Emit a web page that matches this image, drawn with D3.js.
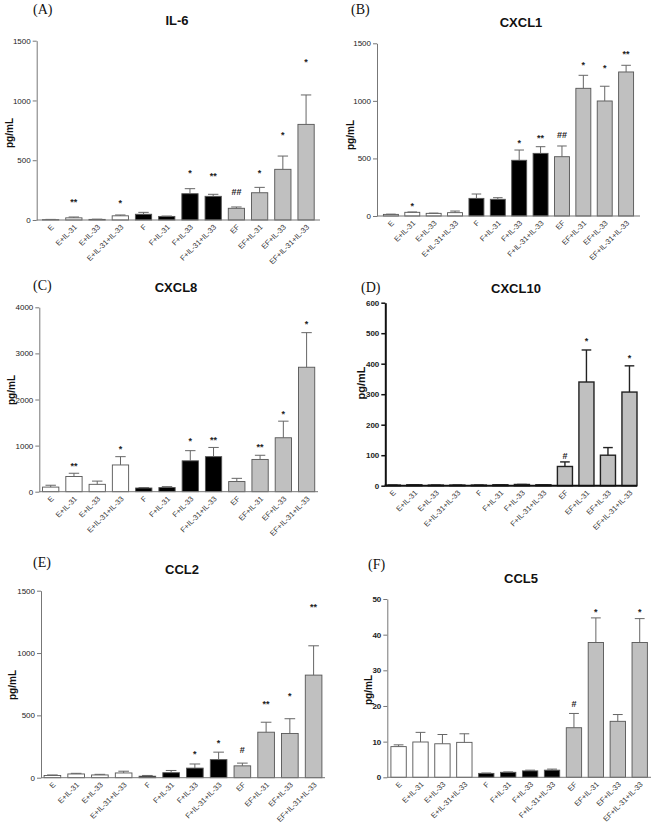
<!DOCTYPE html>
<html><head><meta charset="utf-8">
<script src="https://cdn.jsdelivr.net/npm/d3@7"></script>
<style>
body{margin:0;background:#fff;}
svg{display:block;}
</style></head>
<body>
<svg id="chart" width="656" height="830"></svg>
<script>
const categories = ["E","E+IL-31","E+IL-33","E+IL-31+IL-33","F","F+IL-31","F+IL-33","F+IL-31+IL-33","EF","EF+IL-31","EF+IL-33","EF+IL-31+IL-33"];
const groupOf = ["E","E","E","E","F","F","F","F","EF","EF","EF","EF"];

// IL-6
const il6Mean = [3,18,5,35,48,30,220,198,98,228,424,800];
const il6Err  = [5,25,7,42,64,33,262,215,109,273,535,1046];
const il6Sig  = ["","**","","*","","","*","**","##","*","*","*"];
const il6SigAt= [0,167,0,159,0,0,412,391,237,412,734,1339];
const il6Ticks = [0,500,1000,1500];

// CXCL1
const cxcl1Mean = [14,32,23,29,153,145,484,544,515,1109,999,1251];
const cxcl1Err  = [16,35,25,43,191,159,573,602,608,1222,1127,1309];
const cxcl1Sig  = ["","*","","","","","*","**","##","*","*","**"];
const cxcl1SigAt= [0,110,0,0,0,0,654,695,704,1332,1303,1427];
const cxcl1Ticks = [0,500,1000,1500];

// CXCL8
const cxcl8Mean = [100,330,160,580,80,90,670,760,220,700,1170,2700];
const cxcl8Err  = [140,400,230,760,90,110,890,960,290,790,1530,3450];
const cxcl8Sig  = ["","**","","*","","","*","**","","**","*","*"];
const cxcl8SigAt= [0,616,0,977,0,0,1159,1172,0,1013,1736,3689];
const cxcl8Ticks = [0,1000,2000,3000,4000];

// CXCL10
const cxcl10Mean = [2,3,2,2,2,3,4,3,63,340,100,307];
const cxcl10Err  = [2,3,2,2,2,3,4,3,78,445,125,393];
const cxcl10Sig  = ["","","","","","","","","#","*","","*"];
const cxcl10SigAt= [0,0,0,0,0,0,0,0,97,481,0,428];
const cxcl10Ticks = [0,100,200,300,400,500,600];

// CCL2
const ccl2Mean = [18,30,22,38,12,40,77,145,95,365,355,823];
const ccl2Err  = [22,35,27,52,18,58,110,205,117,445,473,1058];
const ccl2Sig  = ["","","","","","","*","*","#","**","*","**"];
const ccl2SigAt= [0,0,0,0,0,0,209,297,222,610,671,1385];
const ccl2Ticks = [0,500,1000,1500];

// CCL5
const ccl5Mean = [8.6,9.9,9.4,9.8,1.1,1.4,1.8,2.0,13.9,37.8,15.7,37.8];
const ccl5Err  = [9.1,12.6,12.0,12.2,1.2,1.5,2.0,2.3,17.9,44.7,17.6,44.5];
const ccl5Sig  = ["","","","","","","","","#","*","","*"];
const ccl5SigAt= [0,0,0,0,0,0,0,0,20.7,47.1,0,47.1];
const ccl5Ticks = [0,10,20,30,40,50];

const fills = {E:"#ffffff", F:"#000000", EF:"#c0c0c0"};
const svg = d3.select("#chart");
svg.append("rect").attr("width",656).attr("height",830).attr("fill","#fff");

const panels = [
  {label:"(A)", lx:33, ly:14, title:"IL-6", tx:177, ty:25, ylx:9, yly:133,
   x0:36.7, x1:320, po:0.25, y0:220, yTop:40.7, max:1500, ticks:il6Ticks,
   mean:il6Mean, err:il6Err, sig:il6Sig, sigAt:il6SigAt},
  {label:"(B)", lx:351, ly:14, title:"CXCL1", tx:521, ty:27, ylx:350, yly:135,
   x0:377, x1:640, po:0.3, y0:216, yTop:43.3, max:1500, ticks:cxcl1Ticks,
   mean:cxcl1Mean, err:cxcl1Err, sig:cxcl1Sig, sigAt:cxcl1SigAt},
  {label:"(C)", lx:33, ly:290, title:"CXCL8", tx:176, ty:292, ylx:11, yly:390,
   x0:39.3, x1:318, po:0.14, y0:491.7, yTop:307.3, max:4000, ticks:cxcl8Ticks,
   mean:cxcl8Mean, err:cxcl8Err, sig:cxcl8Sig, sigAt:cxcl8SigAt},
  {label:"(D)", lx:361, ly:292, title:"CXCL10", tx:516, ty:293, ylx:361, yly:383,
   x0:385.3, x1:637, po:0.0, y0:485.7, yTop:302.7, max:600, ticks:cxcl10Ticks,
   mean:cxcl10Mean, err:cxcl10Err, sig:cxcl10Sig, sigAt:cxcl10SigAt, heavy:true},
  {label:"(E)", lx:33, ly:567, title:"CCL2", tx:182, ty:574, ylx:12.5, yly:685,
   x0:41, x1:325, po:0.13, y0:777.7, yTop:590.7, max:1500, ticks:ccl2Ticks,
   mean:ccl2Mean, err:ccl2Err, sig:ccl2Sig, sigAt:ccl2SigAt},
  {label:"(F)", lx:368, ly:569, title:"CCL5", tx:521, ty:583, ylx:368, yly:690,
   x0:387.3, x1:651, po:0.165, y0:777.3, yTop:599, max:50, ticks:ccl5Ticks,
   mean:ccl5Mean, err:ccl5Err, sig:ccl5Sig, sigAt:ccl5SigAt, boldTicks:true}
];

panels.forEach(cfg => {
  const g = svg.append("g");
  const heavy = !!cfg.heavy;
  const axisColor = heavy ? "#111" : "#777";
  const axisW = heavy ? 2 : 1;
  const x = d3.scaleBand().domain(categories).range([cfg.x0, cfg.x1]).paddingInner(0.3).paddingOuter(cfg.po);
  const y = d3.scaleLinear().domain([0, cfg.max]).range([cfg.y0, cfg.yTop]);

  // panel label
  g.append("text").attr("x", cfg.lx).attr("y", cfg.ly)
    .attr("font-family","'Liberation Serif','Times New Roman',serif")
    .attr("font-size",14).attr("fill","#111").text(cfg.label);
  // title
  g.append("text").attr("x", cfg.tx).attr("y", cfg.ty).attr("text-anchor","middle")
    .attr("font-family","'Liberation Sans',Arial,sans-serif").attr("font-weight","bold")
    .attr("font-size",13).attr("fill","#111").text(cfg.title);
  // y label
  g.append("text").attr("transform",`translate(${cfg.ylx},${cfg.yly}) rotate(-90)`)
    .attr("text-anchor","middle").attr("dy","0.35em")
    .attr("font-family","'Liberation Sans',Arial,sans-serif").attr("font-weight","bold")
    .attr("font-size", heavy ? 11 : 10).attr("fill","#111").text("pg/mL");

  // bars
  g.selectAll("rect.bar").data(categories).join("rect").attr("class","bar")
    .attr("x", d => x(d)).attr("width", x.bandwidth())
    .attr("y", (d,i) => y(cfg.mean[i])).attr("height", (d,i) => cfg.y0 - y(cfg.mean[i]))
    .attr("fill", (d,i) => fills[groupOf[i]])
    .attr("stroke", heavy ? "#222" : "#555").attr("stroke-width", heavy ? 1.4 : 0.9);

  // error bars (upper only)
  const eg = g.append("g").attr("stroke", heavy ? "#222" : "#666").attr("stroke-width", heavy ? 1.4 : 1).attr("fill","none");
  categories.forEach((d,i) => {
    const cx = x(d) + x.bandwidth()/2;
    const cap = x.bandwidth()*0.32;
    eg.append("line").attr("x1",cx).attr("x2",cx).attr("y1",y(cfg.mean[i])).attr("y2",y(cfg.err[i]));
    eg.append("line").attr("x1",cx-cap).attr("x2",cx+cap).attr("y1",y(cfg.err[i])).attr("y2",y(cfg.err[i]));
  });

  // significance marks
  categories.forEach((d,i) => {
    if (!cfg.sig[i]) return;
    const cx = x(d) + x.bandwidth()/2;
    const isStar = cfg.sig[i].indexOf("*") >= 0;
    g.append("text").attr("x", cx).attr("y", y(cfg.sigAt[i]))
      .attr("text-anchor","middle").attr("dy", isStar ? "0.6em" : "0.35em")
      .attr("font-family","'Liberation Sans',Arial,sans-serif").attr("font-weight","bold")
      .attr("font-size", isStar ? 9 : 9).attr("fill","#222").text(cfg.sig[i]);
  });

  // y axis
  const yAxis = d3.axisLeft(y).tickValues(cfg.ticks).tickSize(4).tickSizeOuter(0).tickPadding(2).tickFormat(d3.format("d"));
  const ya = g.append("g").attr("transform",`translate(${cfg.x0},0)`).call(yAxis);
  ya.select(".domain").attr("stroke",axisColor).attr("stroke-width",axisW);
  ya.selectAll(".tick line").attr("stroke",axisColor).attr("stroke-width",heavy?1.5:1);
  ya.selectAll(".tick text")
    .attr("font-family", heavy ? "'Liberation Sans Narrow','Arial Narrow','Liberation Sans',Arial,sans-serif" : "'Liberation Sans',Arial,sans-serif")
    .attr("font-weight", (heavy || cfg.boldTicks) ? "bold" : "normal")
    .attr("font-size", 8).attr("fill","#222");

  // x axis
  const xAxis = d3.axisBottom(x).tickSize(0).tickSizeOuter(0);
  const xa = g.append("g").attr("transform",`translate(0,${cfg.y0})`).call(xAxis);
  xa.select(".domain").attr("d", `M${cfg.x0},0H${cfg.x1}`).attr("stroke",axisColor).attr("stroke-width",axisW);
  xa.selectAll(".tick text")
    .attr("x",0).attr("y",0).attr("dy","0.3em")
    .attr("transform","translate(2,6) rotate(-45)")
    .attr("text-anchor","end")
    .attr("font-family","'Liberation Sans',Arial,sans-serif")
    .attr("font-size", 7.5).attr("fill","#333");
});
</script>
</body></html>
